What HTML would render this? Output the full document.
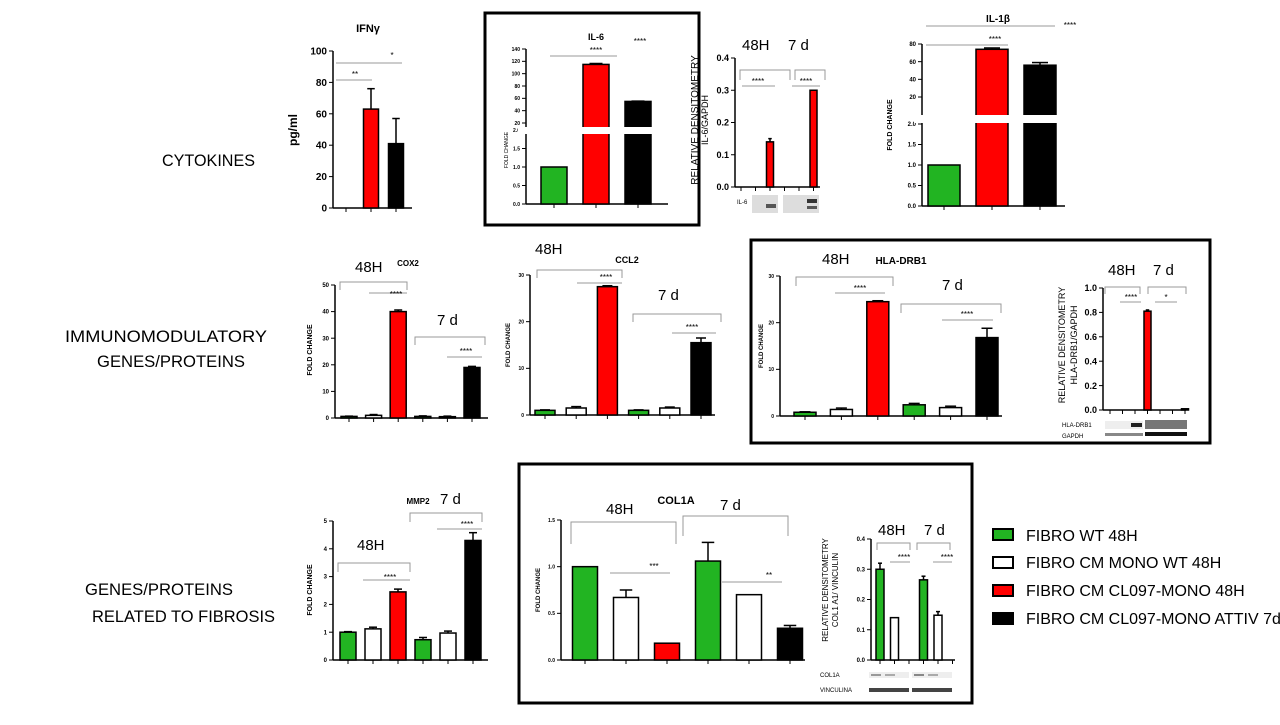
<!DOCTYPE html>
<html><head><meta charset="utf-8">
<style>
html,body{margin:0;padding:0;background:#fff;}
body{width:1280px;height:720px;overflow:hidden;font-family:"Liberation Sans",sans-serif;}
svg text{font-family:"Liberation Sans",sans-serif;}
</style></head>
<body>
<svg id="fig" width="1280" height="720" viewBox="0 0 1280 720" xmlns="http://www.w3.org/2000/svg">
<g fill="none" stroke="#000" stroke-width="3">
<rect x="485" y="13" width="214" height="212"/>
<rect x="751" y="240" width="459" height="203"/>
<rect x="519" y="464" width="453" height="239"/>
</g>
<g font-size="17" fill="#000">
<text x="162" y="166" textLength="93" lengthAdjust="spacingAndGlyphs">CYTOKINES</text>
<text x="65" y="342" textLength="202" lengthAdjust="spacingAndGlyphs">IMMUNOMODULATORY</text>
<text x="97" y="367" textLength="148" lengthAdjust="spacingAndGlyphs">GENES/PROTEINS</text>
<text x="85" y="595" textLength="148" lengthAdjust="spacingAndGlyphs">GENES/PROTEINS</text>
<text x="92" y="622" textLength="183" lengthAdjust="spacingAndGlyphs">RELATED TO FIBROSIS</text>
</g>
<g font-size="16">
<rect x="993" y="529" width="20" height="11" fill="#22b422" stroke="#000" stroke-width="2"/><text x="1026" y="541">FIBRO WT 48H</text>
<rect x="993" y="557" width="20" height="11" fill="#fff" stroke="#000" stroke-width="2"/><text x="1026" y="568">FIBRO CM MONO WT 48H</text>
<rect x="993" y="585" width="20" height="11" fill="#f00" stroke="#000" stroke-width="2"/><text x="1026" y="596">FIBRO CM  CL097-MONO 48H</text>
<rect x="993" y="613" width="20" height="11" fill="#000" stroke="#000" stroke-width="2"/><text x="1026" y="624">FIBRO CM CL097-MONO ATTIV 7d</text>
</g>
</svg>
<script>
// ---- data ----
const G='#22b422',W='#ffffff',R='#ff0000',K='#000000';
const ifngVals=[null,63,41];
const ifngErrs=[0,13,16];
const ifngTicks=[0,20,40,60,80,100];
const il6Vals=[1,115,55];
const il6Errs=[0,1.5,0.5];
const il6LowTicks=[0,0.5,1,1.5,2];
const il6HighTicks=[20,40,60,80,100,120,140];
const il6wbVals=[0,0,0.14,0,0,0.3];
const il6wbErrs=[0,0,0.01,0,0,0];
const il6wbTicks=[0,0.1,0.2,0.3,0.4];
const il1bVals=[1,74,56];
const il1bErrs=[0,1.5,3];
const il1bLowTicks=[0,0.5,1,1.5,2];
const il1bHighTicks=[20,40,60,80];
const cox2Vals=[0.6,1,40,0.6,0.5,19];
const cox2Errs=[0.1,0.3,0.6,0.2,0.2,0.4];
const cox2Ticks=[0,10,20,30,40,50];
const ccl2Vals=[1,1.5,27.5,1,1.5,15.5];
const ccl2Errs=[0.1,0.3,0.2,0.1,0.2,1];
const ccl2Ticks=[0,10,20,30];
const hlaVals=[0.8,1.4,24.5,2.4,1.8,16.8];
const hlaErrs=[0.1,0.3,0.2,0.3,0.3,2];
const hlaTicks=[0,10,20,30];
const hlawbVals=[0,0,0,0.81,0,0,0.01];
const hlawbErrs=[0,0,0,0.01,0,0,0];
const hlawbTicks=[0,0.2,0.4,0.6,0.8,1.0];
const mmp2Vals=[1,1.12,2.45,0.73,0.97,4.3];
const mmp2Errs=[0.02,0.06,0.1,0.08,0.07,0.28];
const mmp2Ticks=[0,1,2,3,4,5];
const col1Vals=[1,0.67,0.18,1.06,0.7,0.34];
const col1Errs=[0,0.08,0,0.2,0,0.03];
const col1Ticks=[0,0.5,1.0,1.5];
const col1wbVals=[0.3,0.14,0,0.265,0.148,0];
const col1wbErrs=[0.02,0,0,0.012,0.012,0];
const col1wbTicks=[0,0.1,0.2,0.3,0.4];
const fills6=[G,W,R,G,W,K];
const fills3=[G,R,K];

const NS='http://www.w3.org/2000/svg';
const svg=document.getElementById('fig');
function el(tag,attrs,parent){const e=document.createElementNS(NS,tag);for(const k in attrs)e.setAttribute(k,attrs[k]);(parent||svg).appendChild(e);return e;}
function lin(d0,d1,r0,r1){return v=>r0+(v-d0)*(r1-r0)/(d1-d0);}

function panel(p){
  const g=el('g',{});
  
  
  const ax=el('line',{x1:p.ax,y1:p.yAxisTop,x2:p.ax,y2:p.ay0,stroke:'#000','stroke-width':p.lw||1.5},g);
  
  
  const xl=el('line',{x1:p.ax,y1:p.ay0,x2:p.xEnd,y2:p.ay0,stroke:'#000','stroke-width':p.lw||1.5},g);
  
  
  p.tickSets.forEach(ts=>{
    ts.ticks.forEach(t=>{
      const y=ts.scale(t);
      el('line',{x1:p.ax-4,y1:y,x2:p.ax,y2:y,stroke:'#000','stroke-width':1},g);
      const tx=el('text',{x:p.ax-6,y:y+p.fs*0.35,'font-size':p.fs,'text-anchor':'end','font-weight':'bold'},g);
      tx.textContent=ts.fmt?ts.fmt(t):String(t);
      
      
    });
  });
  p.vals.forEach((v,i)=>{
    const cx=p.x0+i*p.step;
    el('line',{x1:cx,y1:p.ay0,x2:cx,y2:p.ay0+4,stroke:'#000','stroke-width':1},g);
    if(v===null||v<=0)return;
    const y=p.scale(v);
    const r=el('rect',{x:cx-p.bw/2,y:y,width:p.bw,height:p.ay0-y,fill:p.fills[i],stroke:'#000','stroke-width':1.5},g);
    
    
    const e=p.errs[i];
    if(e>0){
      const ye=p.scale(v+e);
      el('line',{x1:cx,y1:y,x2:cx,y2:ye,stroke:'#000','stroke-width':1.5},g);
      el('line',{x1:cx-p.bw/4,y1:ye,x2:cx+p.bw/4,y2:ye,stroke:'#000','stroke-width':1.5},g);
    }
  });
  if(p.gap){
    el('rect',{x:p.ax-8,y:p.gap[0],width:p.xEnd-p.ax+8,height:p.gap[1]-p.gap[0],fill:'#fff'},g);
  }
  if(p.ylabel){
    const t=el('text',{transform:`translate(${p.ylabel[0]},${p.ylabel[1]}) rotate(-90)`,'font-size':p.ylabel[2],'text-anchor':'middle','font-weight':p.ylabel[3]||'normal'},g);
    t.textContent=p.ylabel[4];
    
    
  }
  return g;
}
function broken(lowMax,lowS,highS){return v=>v<=lowMax?lowS(v):highS(v);}

// IFNg
const sIfng=lin(0,100,208,51);
panel({name:'ifng-chart',ax:333,ay0:208,yAxisTop:51,xEnd:412,x0:346,step:25,bw:15,vals:ifngVals,errs:ifngErrs,fills:[K,R,K],scale:sIfng,fs:10,
 tickSets:[{ticks:ifngTicks,scale:sIfng}],ylabel:[297,130,12,'bold','pg/ml']});
// IL-6
const sIl6Low=lin(0,2,204,130), sIl6High=lin(20,140,123,49);
const sIl6=broken(2,sIl6Low,sIl6High);
panel({name:'il6-chart',ax:526,ay0:204,yAxisTop:49,xEnd:668,x0:554,step:42,bw:26,vals:il6Vals,errs:il6Errs,fills:fills3,scale:sIl6,fs:5,gap:[127,134],
 tickSets:[{ticks:il6LowTicks,scale:sIl6Low,fmt:t=>t.toFixed(1)},{ticks:il6HighTicks,scale:sIl6High}],ylabel:[508,150,5,'normal','FOLD CHANGE']});
// IL-6 WB
const sIl6wb=lin(0,0.4,187,58);
panel({name:'il6-western-chart',ax:735,ay0:187,yAxisTop:58,xEnd:820,x0:741,step:14.5,bw:7,vals:il6wbVals,errs:il6wbErrs,fills:[R,R,R,R,R,R],scale:sIl6wb,fs:9,
 tickSets:[{ticks:il6wbTicks,scale:sIl6wb,fmt:t=>t.toFixed(1)}],ylabel:[698,120,10,'normal','RELATIVE DENSITOMETRY']});
// IL-1b
const sIl1bLow=lin(0,2,206,124), sIl1bHigh=lin(20,80,97,44);
const sIl1b=broken(2,sIl1bLow,sIl1bHigh);
panel({name:'il1b-chart',ax:922,ay0:206,yAxisTop:44,xEnd:1065,x0:944,step:48,bw:32,vals:il1bVals,errs:il1bErrs,fills:fills3,scale:sIl1b,fs:6,gap:[115,123],
 tickSets:[{ticks:il1bLowTicks,scale:sIl1bLow,fmt:t=>t.toFixed(1)},{ticks:il1bHighTicks,scale:sIl1bHigh}],ylabel:[892,125,7,'bold','FOLD CHANGE']});
// COX2
const sCox=lin(0,50,418,285);
panel({name:'cox2-chart',ax:335,ay0:418,yAxisTop:285,xEnd:488,x0:349,step:24.6,bw:16,vals:cox2Vals,errs:cox2Errs,fills:fills6,scale:sCox,fs:6,
 tickSets:[{ticks:cox2Ticks,scale:sCox}],ylabel:[312,350,7,'bold','FOLD CHANGE']});
// CCL2
const sCcl=lin(0,30,415,275);
panel({name:'ccl2-chart',ax:530,ay0:415,yAxisTop:275,xEnd:715,x0:545,step:31.2,bw:20,vals:ccl2Vals,errs:ccl2Errs,fills:fills6,scale:sCcl,fs:5,
 tickSets:[{ticks:ccl2Ticks,scale:sCcl}],ylabel:[510,345,6,'bold','FOLD CHANGE']});
// HLA-DRB1
const sHla=lin(0,30,416,276);
panel({name:'hla-drb1-chart',ax:780,ay0:416,yAxisTop:276,xEnd:1002,x0:805,step:36.4,bw:22,vals:hlaVals,errs:hlaErrs,fills:fills6,scale:sHla,fs:5,
 tickSets:[{ticks:hlaTicks,scale:sHla}],ylabel:[763,346,6,'bold','FOLD CHANGE']});
// HLA WB
const sHlawb=lin(0,1,410,288);
panel({name:'hla-western-chart',ax:1103,ay0:410,yAxisTop:288,xEnd:1186,x0:1110,step:12.5,bw:7,vals:hlawbVals,errs:hlawbErrs,fills:[R,R,R,R,K,K,K],scale:sHlawb,fs:9,
 tickSets:[{ticks:hlawbTicks,scale:sHlawb,fmt:t=>t.toFixed(1)}],ylabel:[1065,345,9,'normal','RELATIVE DENSITOMETRY']});
// MMP2
const sMmp=lin(0,5,660,521);
panel({name:'mmp2-chart',ax:333,ay0:660,yAxisTop:521,xEnd:488,x0:348,step:25,bw:16,vals:mmp2Vals,errs:mmp2Errs,fills:fills6,scale:sMmp,fs:6,
 tickSets:[{ticks:mmp2Ticks,scale:sMmp}],ylabel:[312,590,7,'bold','FOLD CHANGE']});
// COL1A
const sCol=lin(0,1.5,660,520);
panel({name:'col1a-chart',ax:561,ay0:660,yAxisTop:520,xEnd:805,x0:585,step:41,bw:25,vals:col1Vals,errs:col1Errs,fills:fills6,scale:sCol,fs:5,
 tickSets:[{ticks:col1Ticks,scale:sCol,fmt:t=>t.toFixed(1)}],ylabel:[540,590,6,'bold','FOLD CHANGE']});
// COL1A WB
const sColwb=lin(0,0.4,660,539);
panel({name:'col1a-western-chart',ax:871,ay0:660,yAxisTop:539,xEnd:955,x0:880,step:14.5,bw:8,vals:col1wbVals,errs:col1wbErrs,fills:[G,W,W,G,W,W],scale:sColwb,fs:6,
 tickSets:[{ticks:col1wbTicks,scale:sColwb,fmt:t=>t.toFixed(1)}],ylabel:[828,590,8,'normal','RELATIVE DENSITOMETRY']});
</script>
<svg style="position:absolute;left:0;top:0" width="1280" height="720">
<g fill="#000" font-family="Liberation Sans, sans-serif">
<text x="368" y="32" font-size="11" font-weight="bold" text-anchor="middle">IFNγ</text>
<text x="596" y="40" font-size="9" font-weight="bold" text-anchor="middle">IL-6</text>
<text x="998" y="22" font-size="10" font-weight="bold" text-anchor="middle">IL-1β</text>
<text x="408" y="266" font-size="8" font-weight="bold" text-anchor="middle">COX2</text>
<text x="627" y="263" font-size="9" font-weight="bold" text-anchor="middle">CCL2</text>
<text x="901" y="264" font-size="10" font-weight="bold" text-anchor="middle">HLA-DRB1</text>
<text x="418" y="504" font-size="8" font-weight="bold" text-anchor="middle">MMP2</text>
<text x="676" y="504" font-size="11" font-weight="bold" text-anchor="middle">COL1A</text>
<g font-size="15">
<text x="742" y="50">48H</text><text x="788" y="50">7 d</text>
<text x="355" y="272">48H</text><text x="437" y="325">7 d</text>
<text x="535" y="254">48H</text><text x="658" y="300">7 d</text>
<text x="822" y="264">48H</text><text x="942" y="290">7 d</text>
<text x="1108" y="275">48H</text><text x="1153" y="275">7 d</text>
<text x="357" y="550">48H</text><text x="440" y="504">7 d</text>
<text x="606" y="514">48H</text><text x="720" y="510">7 d</text>
<text x="878" y="535">48H</text><text x="924" y="535">7 d</text>
</g>
<text transform="translate(708,120) rotate(-90)" font-size="9" text-anchor="middle">IL-6/GAPDH</text>
<text transform="translate(1077,345) rotate(-90)" font-size="9" text-anchor="middle">HLA-DRB1/GAPDH</text>
<text transform="translate(838,590) rotate(-90)" font-size="8" text-anchor="middle">COL1 A1/ VINCULIN</text>
<g stroke="#999" stroke-width="1" fill="none">
<line x1="336" y1="80" x2="372" y2="80"/><line x1="336" y1="63" x2="402" y2="63"/>
<line x1="550" y1="56" x2="617" y2="56"/>
<line x1="926" y1="26" x2="1055" y2="26"/><line x1="926" y1="45" x2="1008" y2="45"/>
<path d="M740 80 V70 H790 V80 M795 80 V70 H825 V80"/>
<line x1="742" y1="86" x2="775" y2="86"/><line x1="792" y1="86" x2="820" y2="86"/>
<path d="M340 290 V282 H407 V290"/><line x1="369" y1="293" x2="407" y2="293"/>
<path d="M415 345 V337 H485 V345"/><line x1="447" y1="357" x2="482" y2="357"/>
<path d="M537 278 V270 H622 V278"/><line x1="577" y1="283" x2="622" y2="283"/>
<path d="M633 322 V314 H721 V322"/><line x1="672" y1="333" x2="716" y2="333"/>
<path d="M796 286 V277 H893 V286"/><line x1="835" y1="293" x2="885" y2="293"/>
<path d="M901 313 V304 H1001 V313"/><line x1="942" y1="320" x2="993" y2="320"/>
<path d="M1105 294 V287 H1140 V294 M1148 294 V287 H1186 V294"/><line x1="1120" y1="302" x2="1141" y2="302"/><line x1="1155" y1="302" x2="1177" y2="302"/>
<path d="M338 572 V563 H410 V572"/><line x1="363" y1="580" x2="410" y2="580"/>
<path d="M410 522 V513 H482 V522"/><line x1="437" y1="529" x2="482" y2="529"/>
<path d="M571 544 V522 H676 V544"/><line x1="610" y1="573" x2="670" y2="573"/>
<path d="M683 536 V516 H788 V536"/><line x1="722" y1="582" x2="782" y2="582"/>
<path d="M877 550 V543 H910 V550 M917 550 V543 H950 V550"/><line x1="890" y1="562" x2="910" y2="562"/><line x1="933" y1="562" x2="952" y2="562"/>
</g>
<g font-size="8" text-anchor="middle">
<text x="355" y="77">**</text><text x="392" y="58">*</text>
<text x="596" y="53">****</text><text x="640" y="44">****</text>
<text x="1070" y="28">****</text><text x="995" y="42">****</text>
<text x="758" y="84">****</text><text x="806" y="84">****</text>
<text x="396" y="297">****</text><text x="466" y="354">****</text>
<text x="606" y="280">****</text><text x="692" y="330">****</text>
<text x="860" y="291">****</text><text x="967" y="317">****</text>
<text x="1131" y="300">****</text><text x="1166" y="300">*</text>
<text x="390" y="580">****</text><text x="467" y="527">****</text>
<text x="654" y="569">***</text><text x="769" y="578">**</text>
<text x="904" y="560">****</text><text x="947" y="560">****</text>
</g>
<g font-size="6">
<text x="737" y="204">IL-6</text>
<rect x="752" y="195" width="26" height="18" fill="#ddd"/><rect x="783" y="195" width="36" height="18" fill="#ddd"/>
<rect x="766" y="204" width="10" height="4" fill="#555"/><rect x="807" y="199" width="10" height="4" fill="#333"/><rect x="807" y="206" width="10" height="3" fill="#555"/>
<text x="1062" y="427">HLA-DRB1</text><text x="1062" y="438">GAPDH</text>
<rect x="1105" y="421" width="38" height="8" fill="#eee"/><rect x="1145" y="420" width="42" height="9" fill="#777"/>
<rect x="1131" y="423" width="11" height="4" fill="#222"/>
<rect x="1105" y="433" width="38" height="3" fill="#888"/><rect x="1145" y="432" width="42" height="4" fill="#111"/>
<text x="820" y="677">COL1A</text><text x="820" y="692">VINCULINA</text>
<rect x="869" y="672" width="40" height="6" fill="#eee"/><rect x="912" y="672" width="40" height="6" fill="#eee"/>
<rect x="871" y="674" width="10" height="2" fill="#999"/><rect x="885" y="674" width="10" height="2" fill="#aaa"/><rect x="914" y="674" width="10" height="2" fill="#888"/><rect x="928" y="674" width="10" height="2" fill="#aaa"/>
<rect x="869" y="688" width="40" height="4" fill="#444"/><rect x="912" y="688" width="40" height="4" fill="#444"/>
</g>
</g>
</svg>
</body></html>
